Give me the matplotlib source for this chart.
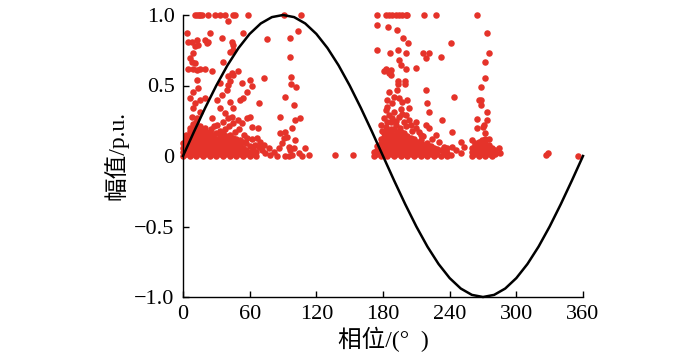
import matplotlib.pyplot as plt

# reference sine (phase in degrees, amplitude in p.u.)
sine_phase = [0, 10, 20, 30, 40, 50, 60, 70, 80, 90, 100, 110, 120, 130, 140, 150, 160, 170, 180,
              190, 200, 210, 220, 230, 240, 250, 260, 270, 280, 290, 300, 310, 320, 330, 340, 350, 360]
sine_amp = [0, 0.174, 0.342, 0.5, 0.643, 0.766, 0.866, 0.940, 0.985, 1.0, 0.985, 0.940, 0.866, 0.766,
            0.643, 0.5, 0.342, 0.174, 0, -0.174, -0.342, -0.5, -0.643, -0.766, -0.866, -0.940, -0.985,
            -1.0, -0.985, -0.940, -0.866, -0.766, -0.643, -0.5, -0.342, -0.174, 0]

# dense discharge bands near zero, one amplitude list per phase column
base1_phase = [0, 3, 6, 9, 12, 15, 18, 21, 24, 27, 30, 33, 36, 39, 42, 45, 48, 51, 54, 57, 60, 63, 66]
base1_amp = [
    [0.00, 0.03, 0.06, 0.09],
    [0.015, 0.045, 0.075, 0.105, 0.135, 0.15],
    [0.00, 0.03, 0.06, 0.09, 0.12, 0.15, 0.18, 0.20],
    [0.015, 0.045, 0.075, 0.105, 0.135, 0.165, 0.195, 0.23],
    [0.00, 0.03, 0.06, 0.09, 0.12, 0.15, 0.18, 0.21, 0.24],
    [0.015, 0.045, 0.075, 0.105, 0.135, 0.165, 0.195, 0.21],
    [0.00, 0.03, 0.06, 0.09, 0.12, 0.15, 0.18],
    [0.015, 0.045, 0.075, 0.105, 0.135, 0.17],
    [0.00, 0.03, 0.06, 0.09, 0.12, 0.15, 0.17],
    [0.015, 0.045, 0.075, 0.105, 0.135, 0.15],
    [0.00, 0.03, 0.06, 0.09, 0.12, 0.16],
    [0.015, 0.045, 0.075, 0.105, 0.14],
    [0.00, 0.03, 0.06, 0.09, 0.12, 0.16],
    [0.015, 0.045, 0.075, 0.105, 0.14],
    [0.00, 0.03, 0.06, 0.09, 0.12, 0.15],
    [0.015, 0.045, 0.075, 0.105, 0.13],
    [0.00, 0.03, 0.06, 0.09, 0.12],
    [0.015, 0.045, 0.075, 0.11],
    [0.00, 0.03, 0.06, 0.10],
    [0.015, 0.045, 0.09],
    [0.00, 0.03, 0.07],
    [0.015, 0.05],
    [0.00, 0.03],
]
base2_phase = [172, 175, 178, 181, 184, 187, 190, 193, 196, 199, 202, 205, 208, 211, 214, 217,
               220, 223, 226, 229, 232, 235, 238]
base2_amp = [
    [0.00, 0.03],
    [0.015, 0.045, 0.07],
    [0.00, 0.03, 0.06, 0.09, 0.12],
    [0.015, 0.045, 0.075, 0.105, 0.135, 0.16],
    [0.00, 0.03, 0.06, 0.09, 0.12, 0.15, 0.18],
    [0.015, 0.045, 0.075, 0.105, 0.135, 0.165, 0.19],
    [0.00, 0.03, 0.06, 0.09, 0.12, 0.15, 0.19],
    [0.015, 0.045, 0.075, 0.105, 0.135, 0.17],
    [0.00, 0.03, 0.06, 0.09, 0.12, 0.15, 0.17],
    [0.015, 0.045, 0.075, 0.105, 0.135, 0.16],
    [0.00, 0.03, 0.06, 0.09, 0.12, 0.14],
    [0.015, 0.045, 0.075, 0.105, 0.13],
    [0.00, 0.03, 0.06, 0.09, 0.12],
    [0.015, 0.045, 0.075, 0.10],
    [0.00, 0.03, 0.06, 0.09, 0.11],
    [0.015, 0.045, 0.08],
    [0.00, 0.03, 0.06, 0.09],
    [0.015, 0.045, 0.07],
    [0.00, 0.03, 0.06],
    [0.015, 0.05],
    [0.00, 0.04],
    [0.015, 0.03],
    [0.00, 0.02],
]
base3_phase = [260, 263, 266, 269, 272, 275, 278, 281]
base3_amp = [
    [0.00, 0.03, 0.06],
    [0.015, 0.045, 0.075, 0.09],
    [0.00, 0.03, 0.06, 0.09, 0.10],
    [0.015, 0.045, 0.075, 0.11],
    [0.00, 0.03, 0.06, 0.09, 0.12, 0.16],
    [0.015, 0.045, 0.075, 0.12],
    [0.00, 0.03, 0.06],
    [0.015, 0.04],
]

# scattered pulses, positive half cycle
pos_phase = [10.8, 12.4, 14, 15.5, 17, 22.9, 28.9, 33.4, 37.9, 45.4, 46.9, 58.9, 90.5, 106.2,
             40.9, 3.3, 7.9, 12.4, 19.9, 21.4, 22.9, 4.8, 10.8, 13.8, 24.4, 34.9, 54.4, 43.9, 45.4,
             42.4, 45.4, 9.3, 6.3, 7.9, 10.8, 9.3, 12.4, 15.3, 19.9, 4.8, 12.4, 36.4, 25.9, 43.9,
             45.4, 49.9, 60.5, 40.9, 42.4, 40.9, 33.4, 53, 62,
             103.5, 75.5, 96.6, 96.6, 72.5, 97.5, 97.5, 101.7,
             9.3, 13.8, 6.3, 10.8, 15.3, 19.9, 9.3, 15.3, 7.9, 12.4, 30.4, 34.9, 39.4, 42.4, 51.4,
             33.4, 37.9, 45.4, 40.9, 49.9, 43.9, 45.4, 53, 57.5, 60.5, 62, 36.4, 25.9, 30.4, 57.5,
             54.4, 68,
             66.5, 69.5, 68, 72.5, 71, 77, 74, 78.5, 81.5, 86, 89, 90.5, 87.5, 92, 93.5, 95, 96.5,
             99.5, 101, 98, 101, 105.6, 99.5, 92, 67.3, 87.5, 109.5, 113, 84.5, 92, 98, 104, 107, 95,
             20, 25, 28, 33, 38, 41, 47, 50, 55, 58, 62, 65,
             137, 153]
pos_amp = [1.0, 1.0, 1.0, 1.0, 1.0, 1.0, 1.0, 1.0, 1.0, 1.0, 1.0, 1.0, 1.0, 1.0,
           0.955, 0.87, 0.81, 0.825, 0.825, 0.80, 0.81, 0.81, 0.78, 0.79, 0.87, 0.84, 0.87, 0.81, 0.79,
           0.74, 0.75, 0.73, 0.695, 0.67, 0.66, 0.62, 0.61, 0.62, 0.62, 0.62, 0.54, 0.67, 0.60, 0.59,
           0.577, 0.60, 0.54, 0.565, 0.53, 0.506, 0.52, 0.52, 0.494,
           0.89, 0.83, 0.84, 0.70, 0.553, 0.558, 0.513, 0.49,
           0.456, 0.48, 0.41, 0.374, 0.40, 0.41, 0.338, 0.314, 0.279, 0.267, 0.40, 0.433, 0.468, 0.385,
           0.40, 0.338, 0.303, 0.338, 0.267, 0.255, 0.279, 0.232, 0.232, 0.267, 0.279, 0.208, 0.243,
           0.267, 0.22, 0.456, 0.41, 0.374,
           0.125, 0.10, 0.066, 0.078, 0.043, 0.055, 0.02, 0.007, 0.03, 0.055, 0.09, 0.125, 0.16, 0.17,
           0.137, 0.066, 0.043, 0.055, 0.11, 0.196, 0.255, 0.27, 0.36, 0.42, 0.196, 0.28, 0.055, 0.007,
           0.0, 0.0, 0.01, 0.02, 0.0, 0.0,
           0.20, 0.19, 0.21, 0.18, 0.19, 0.21, 0.17, 0.19, 0.15, 0.13, 0.12, 0.08,
           0.007, 0.007]

# scattered pulses, second half cycle
neg_phase = [174.8, 182.3, 185.3, 188.3, 191.3, 194.3, 197.4, 200.4, 201.9, 216.9, 227.4, 264.4,
             174.8, 184.7, 192.9, 198, 202.8, 174.8, 185.9, 193.8, 200.4, 216, 221.4, 218.4, 232,
             194.3, 195.8, 200.4, 209.4, 182.3, 180.8, 186.8, 185.3, 186.8, 193.8, 193.8, 199.7, 199.7,
             274, 241, 275.5, 271.9, 271.7, 268,
             185.3, 192.9, 189.9, 194.3, 183.8, 188.3, 197.4, 201.9, 218.4, 220, 221.4, 203.3, 200.4,
             182.3, 185.3, 180.8, 194.3, 198.8, 203.3, 209.4, 186.8, 191.3, 182.3, 209.4, 218.4, 221.4,
             227.4, 213.9, 177.8,
             184, 190, 196, 188, 197, 192, 201, 205, 184, 179, 195, 206, 212, 216, 224, 230,
             233.5, 242.5, 244, 266.5, 268, 268, 274, 264.4, 273.5, 265, 269.6, 271, 260.5, 250, 253,
             235, 238, 242.5, 245.5, 236.5, 241, 250, 284.6, 285.5,
             326.7, 328.5, 355.6]
neg_amp = [1.0, 1.0, 1.0, 1.0, 1.0, 1.0, 1.0, 1.0, 1.0, 1.0, 1.0, 1.0,
           0.927, 0.915, 0.896, 0.837, 0.80, 0.754, 0.73, 0.754, 0.73, 0.73, 0.73, 0.695, 0.70,
           0.683, 0.648, 0.617, 0.624, 0.617, 0.60, 0.61, 0.589, 0.577, 0.53, 0.51, 0.53, 0.51,
           0.87, 0.80, 0.728, 0.667, 0.55, 0.49,
           0.456, 0.468, 0.42, 0.41, 0.40, 0.374, 0.385, 0.40, 0.468, 0.374, 0.314, 0.338, 0.29,
           0.326, 0.29, 0.267, 0.279, 0.243, 0.255, 0.243, 0.243, 0.22, 0.208, 0.196, 0.22, 0.196,
           0.149, 0.149, 0.22,
           0.35, 0.31, 0.33, 0.27, 0.30, 0.25, 0.21, 0.22, 0.24, 0.18, 0.20, 0.18, 0.17, 0.14, 0.12, 0.10,
           0.255, 0.172, 0.42, 0.40, 0.40, 0.36, 0.314, 0.26, 0.255, 0.196, 0.208, 0.22, 0.113, 0.10, 0.066,
           0.066, 0.055, 0.066, 0.043, 0.02, 0.007, 0.02, 0.055, 0.02,
           0.007, 0.02, 0.0]

x_ticks = [0, 60, 120, 180, 240, 300, 360]
y_ticks = [-1.0, -0.5, 0, 0.5, 1.0]
y_ticklabels = ['\u22121.0', '\u22120.5', '0', '0.5', '1.0']

red = '#e5332a'
serif = ['Liberation Serif', 'Noto Sans CJK SC']

fig = plt.figure(figsize=(7, 3.61), dpi=100)
ax = fig.add_axes([183 / 700, 64 / 361, 400 / 700, 282 / 361])

# collect all pulse points
px, py = [], []
for phases, amps in [(base1_phase, base1_amp), (base2_phase, base2_amp), (base3_phase, base3_amp)]:
    for ph, col in zip(phases, amps):
        px += [ph] * len(col)
        py += col
px += pos_phase + neg_phase
py += pos_amp + neg_amp

ax.scatter(px, py, s=22, color=red, linewidths=0, clip_on=False, zorder=2)
ax.plot(sine_phase, sine_amp, color='black', lw=1.8, zorder=3, clip_on=False)

ax.set_xlim(0, 360)
ax.set_ylim(-1, 1)
ax.set_xticks(x_ticks)
ax.set_xticklabels([str(t) for t in x_ticks])
ax.set_yticks(y_ticks)
ax.set_yticklabels(y_ticklabels)
for lab in ax.get_xticklabels() + ax.get_yticklabels():
    lab.set_family(serif)
    lab.set_fontsize(16)

for side in ['top', 'right']:
    ax.spines[side].set_visible(False)
for side in ['left', 'bottom']:
    ax.spines[side].set_linewidth(1.0)
ax.tick_params(direction='in', length=4, width=1.0, pad=6)

ax.set_xlabel('相位/(°  )', family=serif, fontsize=17, labelpad=2)
ax.set_ylabel('幅值/p.u.', family=serif, fontsize=17, labelpad=4)

fig.savefig('out.png', dpi=100)
